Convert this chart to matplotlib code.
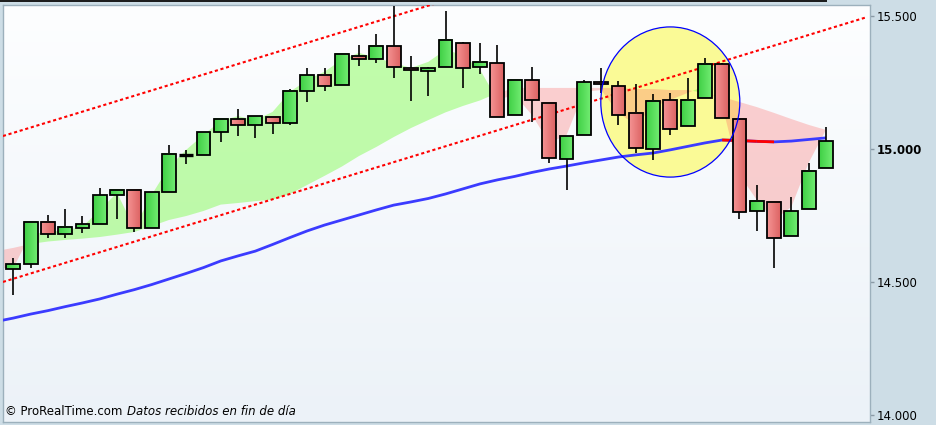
import numpy as np
import matplotlib
matplotlib.use("Agg")
import matplotlib.pyplot as plt
from matplotlib.patches import Rectangle, Ellipse
from matplotlib.colors import LinearSegmentedColormap

# daily candles (index 0 = first visible bar)
opens = [14550, 14568, 14727, 14681, 14704, 14719, 14828, 14847, 14704, 14839,
         14980, 14979, 15065, 15114, 15092, 15122, 15099, 15220, 15280, 15242,
         15351, 15340, 15389, 15306, 15295, 15310, 15400, 15310, 15325, 15129,
         15261, 15174, 14964, 15054, 15253, 15238, 15137, 15001, 15186, 15088,
         15193, 15321, 15114, 14768, 14802, 14674, 14775, 14930]
highs = [14591, 14727, 14753, 14775, 14749, 14854, 14847, 14847, 14840, 15016,
         14998, 15065, 15114, 15152, 15125, 15122, 15227, 15306, 15306, 15359,
         15393, 15434, 15540, 15351, 15310, 15521, 15404, 15400, 15393, 15261,
         15310, 15174, 15050, 15261, 15306, 15257, 15246, 15208, 15212, 15269,
         15344, 15325, 15114, 14866, 14802, 14821, 14949, 15084]
lows = [14452, 14553, 14666, 14666, 14685, 14719, 14738, 14689, 14704, 14839,
        14945, 14979, 15028, 15050, 15043, 15058, 15092, 15178, 15220, 15242,
        15314, 15325, 15269, 15182, 15201, 15310, 15231, 15284, 15122, 15129,
        15103, 14949, 14847, 15054, 15212, 15092, 14986, 14960, 15054, 15088,
        15193, 15118, 14738, 14693, 14553, 14674, 14775, 14930]
closes = [14568, 14727, 14681, 14708, 14719, 14828, 14847, 14704, 14839, 14982,
          14980, 15065, 15114, 15092, 15125, 15099, 15220, 15280, 15238, 15359,
          15340, 15389, 15310, 15299, 15306, 15412, 15306, 15329, 15122, 15261,
          15186, 14967, 15050, 15253, 15246, 15129, 15005, 15182, 15077, 15186,
          15321, 15118, 14764, 14806, 14666, 14768, 14918, 15031]

# indicator curves, one value per bar starting one bar before the first candle
moving_avg = [14352, 14365, 14380, 14393, 14408, 14422, 14437, 14455, 14472, 14491,
              14512, 14533, 14555, 14580, 14599, 14617, 14642, 14668, 14693, 14715,
              14734, 14753, 14772, 14790, 14802, 14815, 14832, 14851, 14870, 14885,
              14898, 14913, 14926, 14937, 14949, 14960, 14971, 14979, 14986, 14998,
              15011, 15024, 15035, 15033, 15030, 15028, 15031, 15037, 15043]
cloud_fast = [14553, 14553, 14681, 14689, 14696, 14708, 14772, 14836, 14704, 14828,
              14933, 14998, 15054, 15107, 15125, 15110, 15141, 15216, 15261, 15292,
              15337, 15363, 15344, 15325, 15306, 15329, 15374, 15355, 15299, 15186,
              15205, 15129, 15024, 15054, 15216, 15223, 15137, 15092, 15159, 15186,
              15212, 15238, 15167, 14904, 14810, 14734, 14783, 14949, 15073]
cloud_slow = [14617, 14629, 14644, 14653, 14659, 14664, 14670, 14679, 14689, 14711,
              14734, 14749, 14768, 14792, 14798, 14805, 14811, 14832, 14866, 14900,
              14935, 14975, 15009, 15046, 15080, 15110, 15139, 15163, 15184, 15212,
              15231, 15231, 15231, 15231, 15231, 15231, 15231, 15227, 15227, 15223,
              15223, 15212, 15197, 15178, 15159, 15137, 15114, 15092, 15073]

# hand-drawn trend channel (bar index, price)
channel_x = [-0.6, 49.4]
channel_low = [14501, 15498]
channel_high = [15050, 16047]

# highlighted zone
zone_center = (38.0, 15178)
zone_size = (8.04, 565)

tick_values = [14000, 14500, 15000, 15500]
tick_labels = ["14.000", "14.500", "15.000", "15.500"]

n = len(opens)
ext_x = np.arange(-1, n)
fast = np.array(cloud_fast)
slow = np.array(cloud_slow)
ma = np.array(moving_avg)

xmin, xmax = -0.596, 49.55
ymin, ymax = 13974, 15543

fig = plt.figure(figsize=(9.36, 4.25), dpi=100, facecolor="#cddde6")
ax = fig.add_axes([3 / 936, 3 / 425, 867 / 936, 417 / 425])

# soft vertical background gradient
bg = LinearSegmentedColormap.from_list("bg", ["#fdfeff", "#ecf2f8"])
ax.imshow(np.linspace(0, 1, 200).reshape(-1, 1), cmap=bg, aspect="auto",
          extent=(xmin, xmax, ymin, ymax), zorder=0)

ax.add_patch(Ellipse(zone_center, *zone_size, fc="#fafa96", ec="none", zorder=1))

ax.fill_between(ext_x, fast, slow, where=fast >= slow, interpolate=True,
                color="#7bfc46", alpha=0.45, lw=0, zorder=2)
ax.fill_between(ext_x, fast, slow, where=fast < slow, interpolate=True,
                color="#fe6865", alpha=0.3, lw=0, zorder=2)

ax.plot(channel_x, channel_low, color="red", lw=1.5, ls=(0, (1.5, 1.3)), zorder=3)
ax.plot(channel_x, channel_high, color="red", lw=1.5, ls=(0, (1.5, 1.3)), zorder=3)

ax.plot(ext_x, ma, color="#3b3bff", lw=2, zorder=4, solid_capstyle="butt")
for k in range(len(ma) - 1):
    if ma[k + 1] < ma[k]:
        ax.plot(ext_x[k:k + 2], ma[k:k + 2], color="red", lw=2, zorder=4.5,
                solid_capstyle="butt")

# candles
green_cmap = LinearSegmentedColormap.from_list("g", ["#3fcf45", "#72ec72"])
red_cmap = LinearSegmentedColormap.from_list("r", ["#f59494", "#dc6262"])
grad = np.linspace(0, 1, 32).reshape(1, -1)
hw = 0.4
for i, (o, h, l, c) in enumerate(zip(opens, highs, lows, closes)):
    ax.vlines(i, l, h, color="black", lw=1.2, zorder=5)
    if c == o:
        ax.hlines(o, i - hw, i + hw, color="black", lw=2.4, zorder=6)
        continue
    lo, hi = min(o, c), max(o, c)
    cmap = green_cmap if c > o else red_cmap
    ax.imshow(grad, cmap=cmap, aspect="auto", interpolation="bilinear",
              extent=(i - hw, i + hw, lo, hi), zorder=6)
    ax.add_patch(Rectangle((i - hw, lo), 2 * hw, hi - lo, fill=False,
                           ec="black", lw=1.3, zorder=7))

ax.add_patch(Ellipse(zone_center, *zone_size, fc="none", ec="#0000ff", lw=0.9, zorder=8))

ax.set_xlim(xmin, xmax)
ax.set_ylim(ymin, ymax)
ax.set_xticks([])
ax.yaxis.tick_right()
ax.set_yticks(tick_values)
ax.set_yticklabels(tick_labels)
ax.tick_params(axis="y", direction="out", length=3, width=1, color="#8a9aa5",
               labelsize=8.5, pad=2)
ax.get_yticklabels()[2].set_fontweight("bold")
for s in ax.spines.values():
    s.set_color("#9cb0bc")
    s.set_linewidth(1)

# dark strip at the top of the window
fig.add_artist(Rectangle((0, 1 - 2 / 425), 827 / 936, 2 / 425,
                         transform=fig.transFigure, color="#1e1e1e", lw=0))

t1 = ax.text(2 / 867, 4 / 417, "\u00a9 ProRealTime.com", transform=ax.transAxes,
             fontsize=8.5, va="bottom", zorder=10)
ax.annotate("Datos recibidos en fin de d\u00eda", xy=(1, 0), xycoords=t1,
            xytext=(3.5, 0), textcoords="offset points", va="bottom",
            fontsize=8.5, style="italic", zorder=10)

fig.savefig("out.png", dpi=100, facecolor=fig.get_facecolor())
